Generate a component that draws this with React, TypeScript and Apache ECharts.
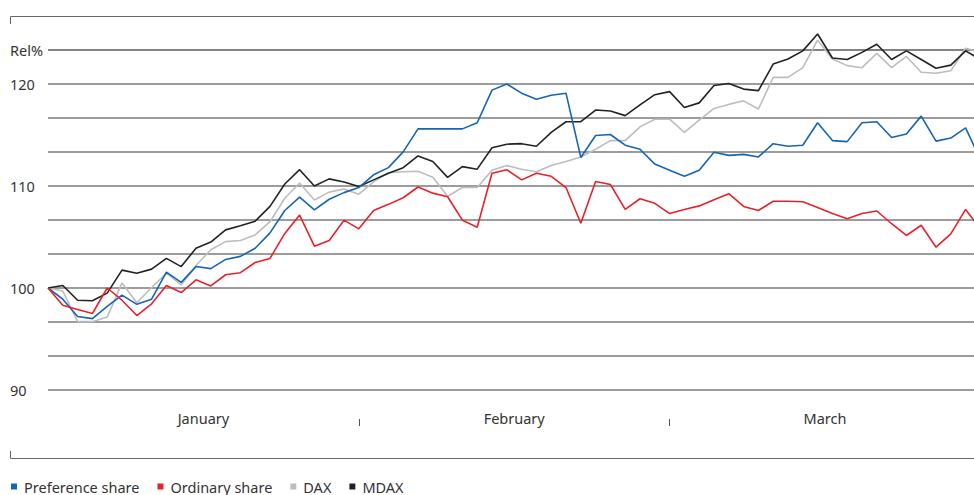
import React, { useEffect, useRef } from "react";
import * as echarts from "echarts";

const months = ["January", "February", "March"];
const monthTickValues = [21, 42];
const monthLabelValues = [10.5, 31.5, 52.5];
const yLabelValues = [90, 100, 110, 120];
const yUnitLabel = "Rel%";
const yUnitValue = 370 / 3;

const seriesNames = ["Preference share", "Ordinary share", "DAX", "MDAX"];

const preference = [
  100, 98.9, 97.2, 97.0, 98.2, 99.3, 98.4, 98.9, 101.55, 100.55, 102.1, 101.9, 102.8, 103.1, 103.9, 105.4,
  107.6, 108.9, 107.65, 108.7, 109.35, 109.85, 111.1, 111.8, 113.35, 115.6, 115.6, 115.6, 115.6, 116.2, 119.4, 120.0,
  119.1, 118.5, 118.9, 119.1, 112.8, 114.95, 115.05, 114.0, 113.6, 112.15, 111.55, 110.95, 111.55, 113.3, 113.0, 113.1,
  112.85, 114.15, 113.9, 114.0, 116.2, 114.45, 114.35, 116.2, 116.3, 114.75, 115.1, 116.85, 114.4, 114.7, 115.7, 112.6,
];

const ordinary = [
  100, 98.3, 97.9, 97.5, 100.0, 98.8, 97.3, 98.45, 100.25, 99.55, 100.8, 100.2, 101.3, 101.5, 102.5, 102.9,
  105.35, 107.15, 104.1, 104.65, 106.65, 105.8, 107.6, 108.2, 108.85, 109.9, 109.3, 108.95, 106.65, 105.95, 111.25, 111.6,
  110.6, 111.25, 110.95, 109.85, 106.35, 110.45, 110.15, 107.7, 108.75, 108.3, 107.3, 107.7, 108.05, 108.65, 109.25, 108.0,
  107.6, 108.5, 108.5, 108.45, 107.9, 107.3, 106.8, 107.3, 107.55, 106.3, 105.15, 106.15, 104.0, 105.3, 107.7, 105.8,
];

const dax = [
  100, 99.7, 96.7, 96.7, 97.15, 100.5, 98.55, 100.05, 101.45, 100.3, 102.2, 103.75, 104.55, 104.65, 105.2, 106.5,
  108.8, 110.3, 108.63, 109.4, 109.7, 109.2, 110.4, 111.3, 111.4, 111.45, 110.85, 109.0, 109.85, 109.85, 111.55, 112.0,
  111.65, 111.4, 112.0, 112.4, 112.85, 113.6, 114.45, 114.45, 115.8, 116.55, 116.55, 115.25, 116.45, 117.6, 118.0, 118.35,
  117.55, 120.65, 120.65, 121.6, 124.3, 122.45, 121.8, 121.6, 123.0, 121.6, 122.7, 121.15, 121.05, 121.3, 123.5, 123.1,
];

const mdax = [
  100, 100.25, 98.8, 98.75, 99.5, 101.75, 101.45, 101.85, 102.9, 102.1, 103.9, 104.5, 105.7, 106.1, 106.55, 108.0,
  110.2, 111.6, 110.0, 110.7, 110.4, 109.95, 110.6, 111.25, 111.8, 112.95, 112.4, 110.85, 111.9, 111.65, 113.75, 114.1,
  114.15, 113.9, 115.25, 116.3, 116.3, 117.45, 117.35, 116.9, 117.95, 118.95, 119.25, 117.7, 118.15, 119.85, 120.05, 119.5,
  119.35, 121.95, 122.45, 123.25, 124.9, 122.55, 122.4, 123.1, 123.9, 122.4, 123.25, 122.4, 121.55, 121.85, 123.25, 122.4,
];

const seriesData = [preference, ordinary, dax, mdax];
const seriesColors = ["#1565b4", "#e8222b", "#bdbdbd", "#222222"];
const seriesZ = [4, 5, 2, 3];

const FONT = "'Noto Sans', sans-serif";
const TEXT = "#333333";

export default function App() {
  const ref = useRef<HTMLDivElement>(null);

  useEffect(() => {
    if (!ref.current) return;
    const chart = echarts.init(ref.current, undefined, { renderer: "svg" });
    const option: any = {
      animation: false,
      backgroundColor: "#ffffff",
      textStyle: { fontFamily: FONT },
      grid: { left: 48, top: 50, width: 932.4, height: 340, containLabel: false },
      xAxis: {
        type: "value",
        min: 0,
        max: seriesData[0].length - 1,
        offset: 29,
        axisLine: { show: false },
        splitLine: { show: false },
        axisTick: {
          show: true,
          customValues: monthTickValues,
          length: 7,
          lineStyle: { color: "#555555", width: 1 },
        },
        axisLabel: {
          customValues: monthLabelValues,
          formatter: (v: number) => months[Math.round((v - monthLabelValues[0]) / 21)] ?? "",
          margin: -1,
          verticalAlign: "middle",
          color: TEXT,
          fontSize: 14.5,
          fontFamily: FONT,
        },
      },
      yAxis: {
        type: "value",
        min: 90,
        max: yUnitValue,
        interval: 10 / 3,
        axisLine: { show: false },
        axisTick: { show: false },
        splitLine: { show: true, lineStyle: { color: "#7b7b7b", width: 1.5 } },
        axisLabel: {
          customValues: [...yLabelValues, yUnitValue],
          formatter: (v: number) => {
            if (Math.abs(v - yUnitValue) < 0.01) return yUnitLabel;
            const hit = yLabelValues.find((t) => Math.abs(t - v) < 0.01);
            return hit !== undefined ? String(hit) : "";
          },
          align: "left",
          margin: 38,
          color: TEXT,
          fontSize: 14.5,
          fontFamily: FONT,
        },
      },
      legend: {
        data: seriesNames,
        left: 6,
        top: 474,
        icon: "rect",
        itemWidth: 6,
        itemHeight: 6,
        itemGap: 18,
        textStyle: { color: TEXT, fontSize: 14.5, fontFamily: FONT, padding: [0, 0, 0, 2] },
      },
      graphic: [
        {
          type: "polyline",
          shape: { points: [[10.5, 24], [10.5, 16.5], [990, 16.5]] },
          style: { stroke: "#666666", lineWidth: 1, fill: "none" },
          silent: true,
        },
        {
          type: "polyline",
          shape: { points: [[10.5, 451], [10.5, 458.5], [990, 458.5]] },
          style: { stroke: "#666666", lineWidth: 1, fill: "none" },
          silent: true,
        },
      ],
      series: seriesNames.map((name, k) => ({
        name,
        type: "line",
        symbol: "none",
        clip: false,
        z: seriesZ[k],
        color: seriesColors[k],
        lineStyle: { color: seriesColors[k], width: 1.6 },
        data: seriesData[k].map((v, i) => [i, v]),
      })),
    };
    chart.setOption(option);
    return () => chart.dispose();
  }, []);

  return (
    <div style={{ position: "fixed", left: 0, top: 0, width: 974, height: 495, overflow: "hidden", background: "#fff" }}>
      <div ref={ref} style={{ width: 990, height: 495 }} />
    </div>
  );
}
